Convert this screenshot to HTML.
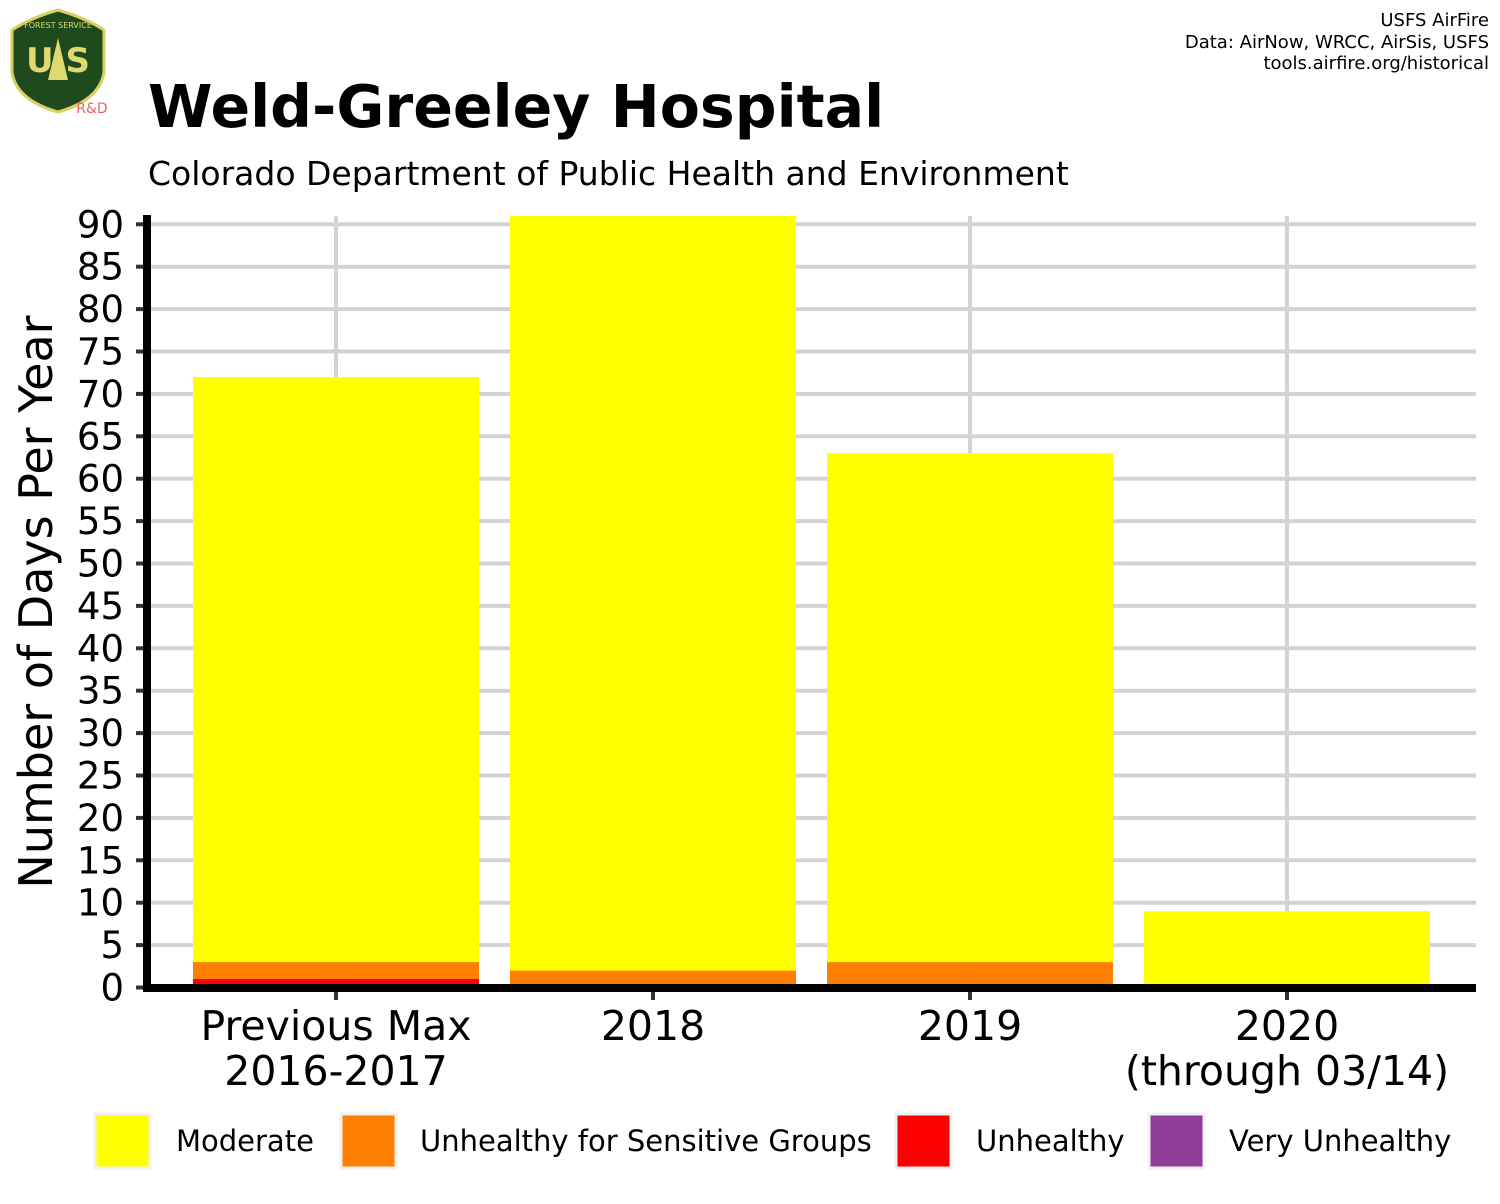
<!DOCTYPE html>
<html><head><meta charset="utf-8"><style>
body{margin:0;background:#fff;width:1500px;height:1200px;overflow:hidden;font-family:"DejaVu Sans","Liberation Sans",sans-serif;}
svg text{font-family:"DejaVu Sans","Liberation Sans",sans-serif;}
</style></head><body>
<svg id="chart" width="1500" height="1200" viewBox="0 0 1500 1200">
<g>
<path d="M12,30 Q30,18 58,10 Q86,18 104,30 L104,72 Q100,100 58,112 Q16,100 12,72 Z" fill="#1e4a1e" stroke="#d8d060" stroke-width="3"/>
<text x="58" y="28" font-size="8" fill="#e0d870" text-anchor="middle">FOREST SERVICE</text>
<text x="58" y="72" font-size="34" font-weight="bold" fill="#e0d870" text-anchor="middle">U  S</text>
<polygon points="58,38 68,80 48,80" fill="#e0d870"/>
<text x="92" y="113" font-size="14" fill="#f06060" text-anchor="middle">R&amp;D</text>
</g>
<text x="1489" y="26" font-size="18" text-anchor="end">USFS AirFire</text>
<text x="1489" y="48" font-size="18" text-anchor="end">Data: AirNow, WRCC, AirSis, USFS</text>
<text x="1489" y="69" font-size="18" text-anchor="end">tools.airfire.org/historical</text>
<text x="148" y="127" font-size="58.5" font-weight="bold">Weld-Greeley Hospital</text>
<text x="148" y="185" font-size="33">Colorado Department of Public Health and Environment</text>
<text transform="translate(52,602) rotate(-90)" font-size="46" text-anchor="middle">Number of Days Per Year</text>
<g id="grid"></g><g id="bars"></g><g id="axes"></g><g id="legend"></g>
</svg>
<script>
const categories=["Previous Max\n2016-2017","2018","2019","2020\n(through 03/14)"];
const unhealthy=[1,0,0,0];
const usg=[2,2,3,0];
const moderate=[69,89,60,9];
const veryUnhealthy=[0,0,0,0];
const yTicks=[0,5,10,15,20,25,30,35,40,45,50,55,60,65,70,75,80,85,90];
const legendLabels=["Moderate","Unhealthy for Sensitive Groups","Unhealthy","Very Unhealthy"];
const legendColors=["#ffff00","#ff7f00","#ff0000","#8e3c97"];
const NS="http://www.w3.org/2000/svg";
const y0=987.5,ppu=8.48;
const yScale=v=>y0-v*ppu;
const xScale=i=>336+i*317;
const bw=286;
function mk(tag,attrs,parent){const e=document.createElementNS(NS,tag);for(const k in attrs)e.setAttribute(k,attrs[k]);parent.appendChild(e);return e;}
const grid=document.getElementById('grid'),bars=document.getElementById('bars'),axes=document.getElementById('axes'),legend=document.getElementById('legend');
yTicks.forEach(t=>{
 const l=mk('line',{x1:148,x2:1476,y1:yScale(t),y2:yScale(t),stroke:'#d3d3d3','stroke-width':4},grid);
 
 
 const tk=mk('line',{x1:136,x2:145,y1:yScale(t),y2:yScale(t),stroke:'#333','stroke-width':4},axes);
 
 
 const tx=mk('text',{x:124,y:yScale(t)+13,'font-size':37,'text-anchor':'end'},axes);
 tx.textContent=t;
 
 
});
categories.forEach((c,i)=>{
 const g=mk('line',{x1:xScale(i),x2:xScale(i),y1:216,y2:985,stroke:'#d3d3d3','stroke-width':4},grid);
 
 
 let base=0;
 [[unhealthy,'#ff0000','unhealthy'],[usg,'#ff7f00','usg'],[moderate,'#ffff00','moderate'],[veryUnhealthy,'#8e3c97','very-unhealthy']].forEach(([arr,col,nm])=>{
  const v=arr[i]; if(v<=0)return;
  const r=mk('rect',{x:xScale(i)-bw/2,y:yScale(base+v),width:bw,height:v*ppu,fill:col},bars);
  
  
  base+=v;
 });
 const tk=mk('line',{x1:xScale(i),x2:xScale(i),y1:990,y2:1000,stroke:'#333','stroke-width':4},axes);
 
 
 c.split('\n').forEach((ln,j)=>{
  const t=mk('text',{x:xScale(i),y:1040+j*45,'font-size':41,'text-anchor':'middle'},axes);
  t.textContent=ln;
  
  
 });
});
const ax=mk('line',{x1:147,x2:1476,y1:988,y2:988,stroke:'#000','stroke-width':8},axes);


const ay=mk('line',{x1:147,x2:147,y1:215,y2:992,stroke:'#000','stroke-width':8},axes);


const lx=[95,341,896,1149],tx2=[176,420,976,1229];
legendLabels.forEach((lb,i)=>{
 const r=mk('rect',{x:lx[i],y:1114,width:55,height:54,fill:legendColors[i],stroke:'#f0f0f0','stroke-width':3},legend);
 
 
 const t=mk('text',{x:tx2[i],y:1151,'font-size':29},legend);
 t.textContent=lb;
 
 
});
</script>
</body></html>
